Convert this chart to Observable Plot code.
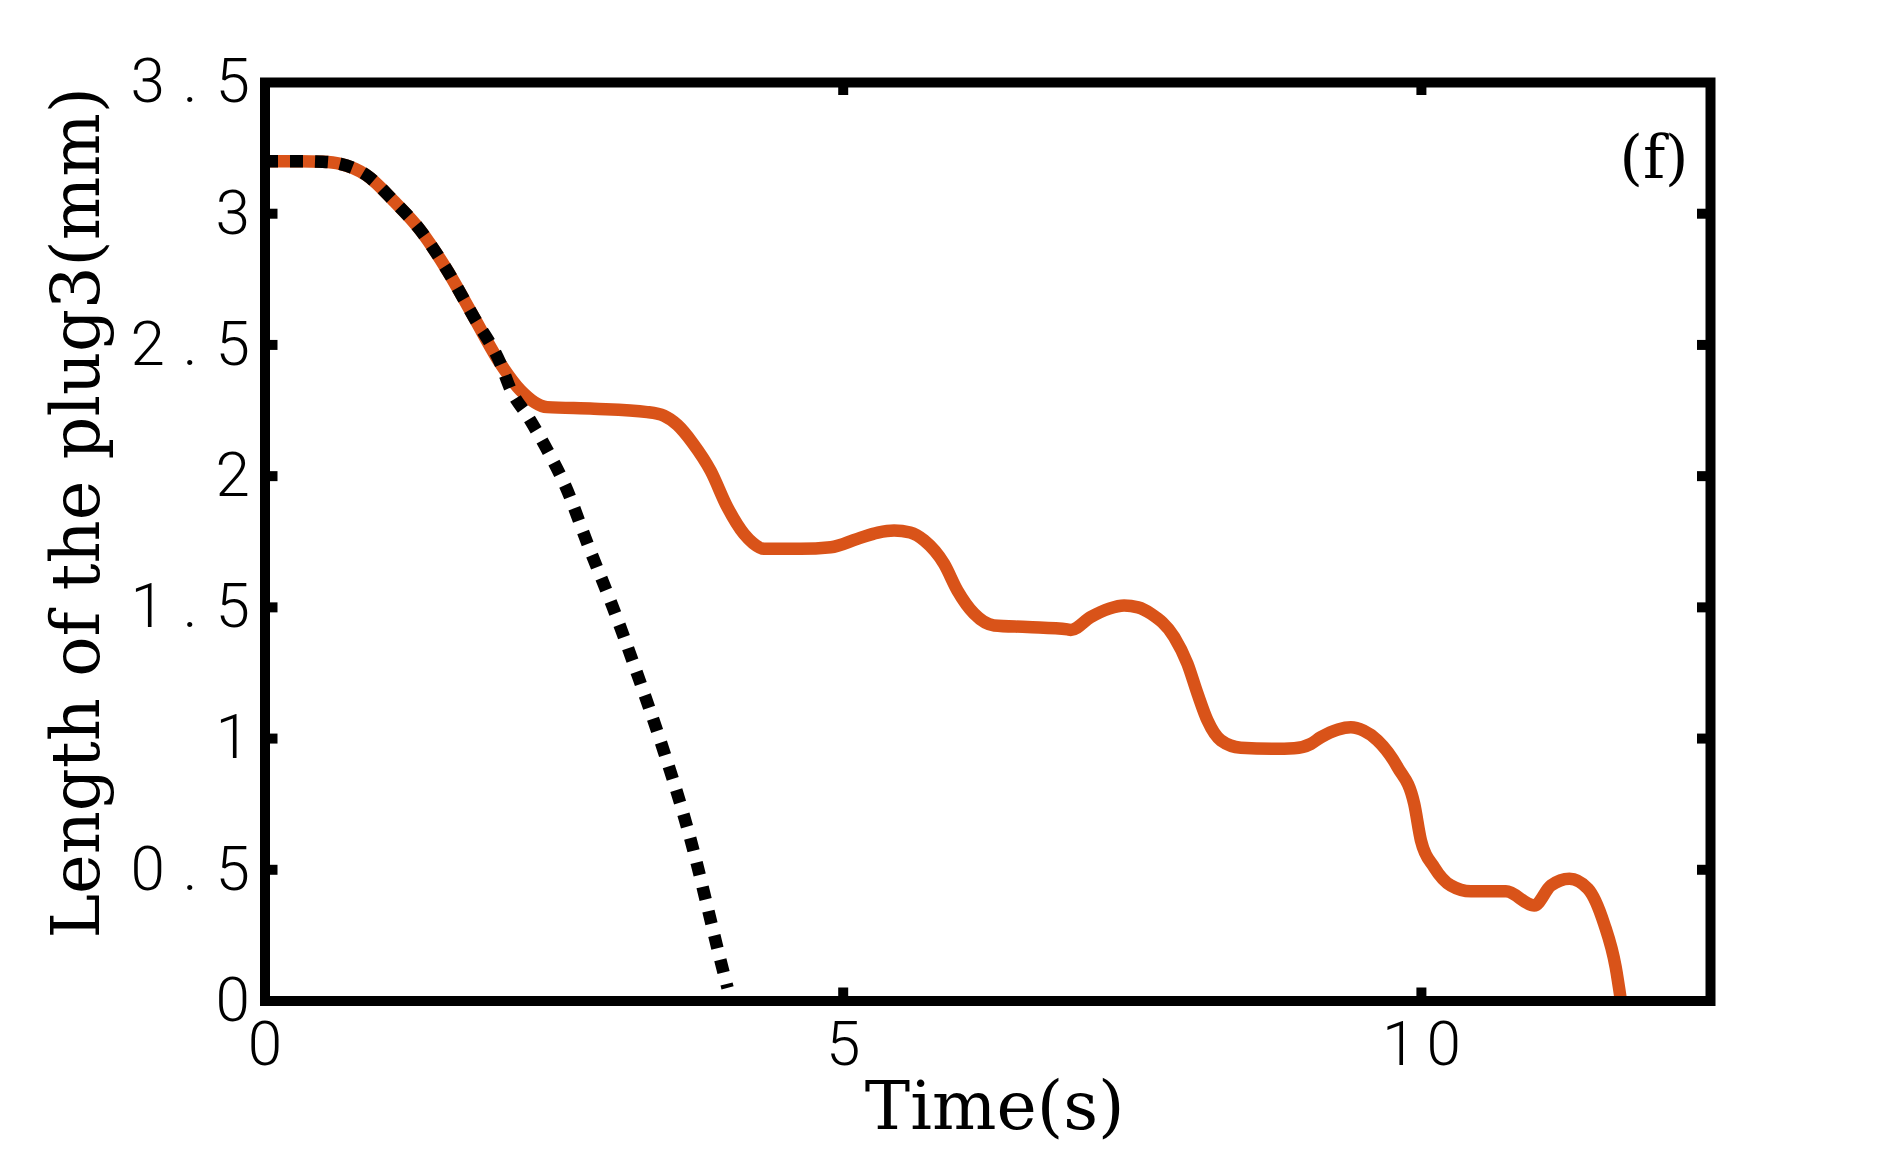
<!DOCTYPE html>
<html>
<head>
<meta charset="utf-8">
<script src="https://cdn.jsdelivr.net/npm/d3@7"></script>
<script src="https://cdn.jsdelivr.net/npm/@observablehq/plot@0.6"></script>
<style>
  html, body { margin: 0; padding: 0; background: #fff; }
  svg { display: block; }
</style>
</head>
<body>
<div id="chart"></div>
<script>
// Measured (orange) curve: time (s) and plug length (mm)
const timeMeasured = [0, 0.3, 0.5, 0.65, 0.88, 1.11, 1.345, 1.576, 1.806, 2.037, 2.21, 2.44, 2.845, 3.306, 3.45, 3.566, 3.7, 3.854, 3.998, 4.142, 4.22, 4.315, 4.632, 4.892, 5.123, 5.3, 5.44, 5.58, 5.7, 5.872, 5.988, 6.132, 6.305, 6.593, 6.94, 6.968, 7.141, 7.3, 7.429, 7.55, 7.66, 7.862, 7.977, 8.064, 8.15, 8.266, 8.439, 8.727, 8.9, 9.044, 9.13, 9.28, 9.39, 9.5, 9.621, 9.794, 9.938, 9.996, 10.11, 10.255, 10.428, 10.73, 10.976, 11.12, 11.28, 11.44, 11.58, 11.68, 11.726];
const lengthMeasured = [3.2, 3.2, 3.198, 3.19, 3.146, 3.05, 2.936, 2.784, 2.606, 2.428, 2.327, 2.263, 2.257, 2.244, 2.23, 2.195, 2.125, 2.02, 1.882, 1.78, 1.745, 1.723, 1.723, 1.729, 1.761, 1.785, 1.793, 1.785, 1.755, 1.666, 1.564, 1.476, 1.431, 1.425, 1.416, 1.414, 1.463, 1.495, 1.507, 1.5, 1.476, 1.387, 1.285, 1.171, 1.069, 0.993, 0.965, 0.961, 0.963, 0.98, 1.005, 1.035, 1.043, 1.03, 0.993, 0.891, 0.751, 0.612, 0.51, 0.44, 0.418, 0.418, 0.364, 0.44, 0.466, 0.428, 0.294, 0.129, 0.0];

// Model (black dotted) curve
const timeModel = [0, 0.3, 0.5, 0.65, 0.88, 1.11, 1.345, 1.576, 1.806, 2.037, 2.124, 2.27, 2.44, 2.6, 2.8, 3.0, 3.2, 3.45, 3.6, 3.725, 3.825, 3.93, 4.0];
const lengthModel = [3.2, 3.2, 3.198, 3.19, 3.146, 3.05, 2.936, 2.784, 2.606, 2.428, 2.33, 2.23, 2.10, 1.96, 1.73, 1.51, 1.27, 0.95, 0.74, 0.54, 0.36, 0.17, 0.05];

const xTicks = [0, 5, 10];
const yTicks = [0, 0.5, 1, 1.5, 2, 2.5, 3, 3.5];
const xLabel = "Time(s)";
const yLabel = "Length of the plug3(mm)";
const panelLabel = "(f)";

const measured = timeMeasured.map((t, i) => ({t, L: lengthMeasured[i]}));
const model = timeModel.map((t, i) => ({t, L: lengthModel[i]}));

const W = 1898, H = 1173;
const mL = 264.5, mR = 188, mT = 82, mB = 172.5;
const plotW = W - mL - mR, plotH = H - mT - mB;
const tickLen = 13;
const tickFont = "Roboto, 'DejaVu Sans', sans-serif";
const serif = "'DejaVu Serif', 'Liberation Serif', serif";

const chart = Plot.plot({
  width: W,
  height: H,
  marginLeft: mL,
  marginRight: mR,
  marginTop: mT,
  marginBottom: mB,
  style: {background: "#fff", color: "#000", fontFamily: tickFont},
  x: {domain: [0, 12.5], axis: null},
  y: {domain: [0, 3.5], axis: null},
  marks: [
    Plot.line(measured, {x: "t", y: "L", stroke: "#d95319", strokeWidth: 12.5, curve: "monotone-x", strokeLinecap: "butt", strokeLinejoin: "round"}),
    Plot.line(model, {x: "t", y: "L", stroke: "#000", strokeWidth: 12.5, curve: "monotone-x", strokeDasharray: "13,12", strokeLinecap: "butt"}),
    // inward ticks
    Plot.tickX(xTicks.slice(1), {x: d => d, stroke: "#000", strokeWidth: 10, insetTop: plotH - tickLen}),
    Plot.tickX(xTicks.slice(1), {x: d => d, stroke: "#000", strokeWidth: 10, insetBottom: plotH - tickLen}),
    Plot.tickY(yTicks.slice(1, -1), {y: d => d, stroke: "#000", strokeWidth: 10, insetRight: plotW - tickLen}),
    Plot.tickY(yTicks.slice(1, -1), {y: d => d, stroke: "#000", strokeWidth: 10, insetLeft: plotW - tickLen}),
    Plot.frame({stroke: "#000", strokeWidth: 10}),
    // tick labels
    Plot.axisX({ticks: xTicks, tickSize: 0, tickPadding: 20, tickFormat: d => String(d), fontSize: 62, fontWeight: 300, dx: 5, label: null}),
    Plot.axisY({ticks: yTicks, tickSize: 0, tickPadding: -3, tickFormat: d => String(d), fontSize: 62, fontWeight: 300, label: null}),
    // axis titles and panel label
    Plot.text([yLabel], {frameAnchor: "left", text: d => d, rotate: -90, textAnchor: "middle", lineAnchor: "middle", dx: -187.5, dy: -29, fontSize: 67, fontFamily: serif, fill: "#000"}),
    Plot.text([xLabel], {frameAnchor: "bottom", text: d => d, textAnchor: "middle", lineAnchor: "middle", dx: 7, dy: 106.5, fontSize: 68, fontFamily: serif, fill: "#000"}),
    Plot.text([panelLabel], {frameAnchor: "top-right", text: d => d, textAnchor: "end", lineAnchor: "middle", dx: -22, dy: 76, fontSize: 60, fontFamily: serif, fill: "#000"})
  ]
});

chart.querySelectorAll("g[aria-label='x-axis tick label'] text").forEach(t => {
  t.style.letterSpacing = "10px";
});
chart.querySelectorAll("g[aria-label='y-axis tick label'] text").forEach(t => {
  t.style.letterSpacing = "18px";
});
document.getElementById("chart").appendChild(chart);
</script>
</body>
</html>
